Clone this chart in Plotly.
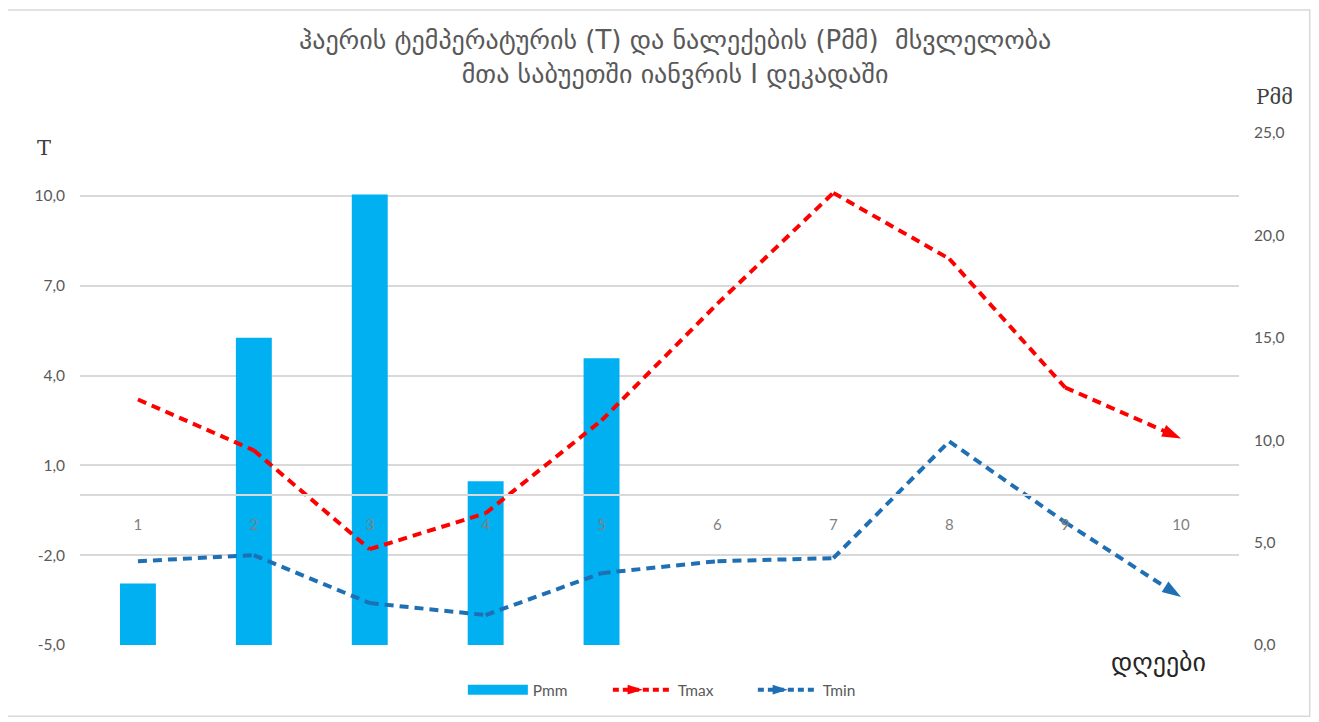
import plotly.graph_objects as go

days = ["1", "2", "3", "4", "5", "6", "7", "8", "9", "10"]
pmm = [3.0, 15.0, 22.0, 8.0, 14.0, 0, 0, 0, 0, 0]
tmax = [3.2, 1.5, -1.8, -0.6, 2.5, 6.4, 10.1, 7.9, 3.6, 1.9]
tmin = [-2.2, -2.0, -3.6, -4.0, -2.6, -2.2, -2.1, 1.8, -0.9, -3.4]
t_ticks = [-5, -2, 1, 4, 7, 10]
p_ticks = [0, 5, 10, 15, 20, 25]

title_text = "ჰაერის ტემპერატურის (T) და ნალექების (Pმმ)  მსვლელობა<br>მთა საბუეთში იანვრის I დეკადაში"

T_RANGE = [-5, 12.1]
zero_pos = (0 - T_RANGE[0]) / (T_RANGE[1] - T_RANGE[0])


def fmt(v):
    return f"{v:.1f}".replace(".", ",")


GREY = "#595959"
FONT = "Lato, DejaVu Sans, sans-serif"
BAR_C = "#00b0f0"
RED = "#ff0000"
BLUE = "#1f6fb5"

fig = go.Figure()

fig.add_trace(go.Bar(
    x=days, y=pmm, name="Pmm", marker=dict(color=BAR_C, line=dict(width=0)),
    yaxis="y", xaxis="x", showlegend=False,
))


def arrow_marker(n, color):
    return dict(
        symbol=["circle"] * (n - 1) + ["arrow"],
        size=[0] * (n - 1) + [20],
        angleref="previous",
        color=color,
        opacity=1,
        line=dict(width=0),
    )


fig.add_trace(go.Scatter(
    x=days, y=tmax, name="Tmax", mode="lines+markers", yaxis="y2",
    line=dict(color=RED, width=4, dash="9px,6px"),
    marker=arrow_marker(len(days), RED), showlegend=False,
))
fig.add_trace(go.Scatter(
    x=days, y=tmin, name="Tmin", mode="lines+markers", yaxis="y2",
    line=dict(color=BLUE, width=4, dash="9px,6px"),
    marker=arrow_marker(len(days), BLUE), showlegend=False,
))
# legend entries
fig.add_trace(go.Scatter(
    x=[None], y=[None], name="Pmm", mode="lines", yaxis="y",
    line=dict(color=BAR_C, width=12),
))
fig.add_trace(go.Scatter(
    x=[None], y=[None], name="Tmax", mode="lines+markers", yaxis="y2",
    line=dict(color=RED, width=4, dash="6px,4px"),
    marker=dict(symbol="arrow", angle=90, size=16, color=RED),
))
fig.add_trace(go.Scatter(
    x=[None], y=[None], name="Tmin", mode="lines+markers", yaxis="y2",
    line=dict(color=BLUE, width=4, dash="6px,4px"),
    marker=dict(symbol="arrow", angle=90, size=16, color=BLUE),
))

fig.update_layout(
    width=1311, height=714,
    margin=dict(l=72, r=80, t=125, b=77),
    paper_bgcolor="white", plot_bgcolor="white",
    font=dict(family=FONT, color=GREY, size=15),
    bargap=0.69,
    xaxis=dict(
        type="category", anchor="free", position=zero_pos,
        showgrid=False, showline=True, linecolor="#d9d9d9", linewidth=1.5,
        ticks="", ticklabelstandoff=16, layer="above traces",
        tickfont=dict(size=15, color="#7f7f7f"), range=[-0.5, 9.5],
    ),
    yaxis=dict(
        side="right", range=[0, 25], tickvals=p_ticks,
        ticktext=[fmt(v) for v in p_ticks],
        showgrid=False, zeroline=False, ticklabelstandoff=14,
        tickfont=dict(size=15.5, color=GREY),
    ),
    yaxis2=dict(
        side="left", overlaying="y", range=T_RANGE, tickvals=t_ticks,
        ticktext=[fmt(v) for v in t_ticks],
        showgrid=True, gridcolor="#d9d9d9", gridwidth=1.5, zeroline=False,
        ticklabelstandoff=14, tickfont=dict(size=15.5, color=GREY),
    ),
    legend=dict(
        orientation="h", x=0.518, xanchor="center", y=-0.088, yanchor="middle",
        font=dict(size=15.5, color=GREY), itemwidth=60, traceorder="normal",
        entrywidth=70, entrywidthmode="pixels",
    ),
    showlegend=True,
)

fig.add_annotation(
    text=title_text, xref="paper", yref="paper", x=0.513, y=1.148,
    showarrow=False, font=dict(family="DejaVu Sans, sans-serif", size=26, color=GREY),
    align="center", yanchor="middle",
)
fig.add_annotation(
    text="T", xref="paper", yref="paper", x=-0.039, y=0.998, showarrow=False,
    font=dict(family="DejaVu Serif, Liberation Serif, serif", size=21, color="#404040"),
)
fig.add_annotation(
    text="Pმმ", xref="paper", yref="paper", x=1.048, y=1.098, showarrow=False,
    font=dict(family="DejaVu Serif, DejaVu Sans, serif", size=20, color="#404040"),
)
fig.add_annotation(
    text="დღეები", xref="paper", yref="paper", x=0.973, y=-0.066, showarrow=False,
    font=dict(family="DejaVu Sans, sans-serif", size=26, color="#262626"),
)
fig.add_shape(
    type="rect", xref="paper", yref="paper",
    x0=-0.063, x1=1.061, y0=-0.139, y1=1.240,
    line=dict(color="#d9d9d9", width=1.5), fillcolor="rgba(0,0,0,0)", layer="below",
)

fig.write_html("out.html")
